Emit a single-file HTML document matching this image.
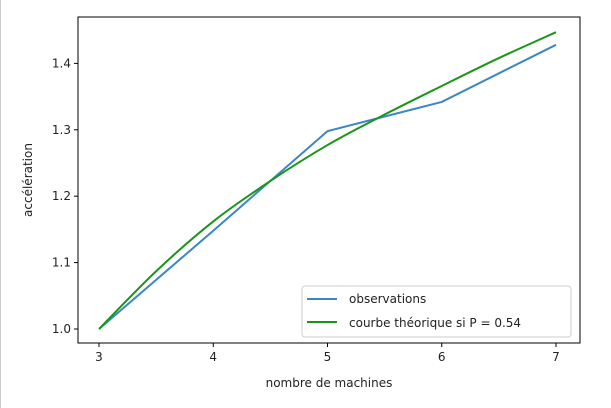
<!DOCTYPE html>
<html><head><meta charset="utf-8">
<style>
body{margin:0;background:#fff;}
svg{display:block;font-family:"DejaVu Sans","Liberation Sans",sans-serif;}
</style></head>
<body>
<svg id="chart" width="611" height="408">
<rect x="0" y="0" width="611" height="408" fill="#fff"/>
<rect x="0" y="0" width="1" height="408" fill="#ccc"/>
<g id="plot"></g>
</svg>
<script>
const categories=[3,4,5,6,7];
const observations=[1.0,1.148,1.298,1.342,1.428];
const theoX=[3,3.5,4,4.5,5,5.5,6,6.5,7];
const theoY=[1.0,1.087,1.162,1.223,1.277,1.323,1.366,1.408,1.447];
const xTicks=[3,4,5,6,7];
const yTicks=[1.0,1.1,1.2,1.3,1.4];
const yTickLabels=["1.0","1.1","1.2","1.3","1.4"];

const L=78,R=580,T=17,B=343;
function xs(v){return 99+(v-3)*(556-99)/4;}
function ys(v){return 329-(v-1.0)*664;}
const NS="http://www.w3.org/2000/svg";
const g=document.getElementById('plot');
function mk(tag,attrs,parent){const e=document.createElementNS(NS,tag);for(const k in attrs)e.setAttribute(k,attrs[k]);(parent||g).appendChild(e);return e;}

const frame=mk('rect',{x:L,y:T,width:R-L,height:B-T,fill:'none',stroke:'#000','stroke-width':1});



xTicks.forEach(v=>{
  const x=xs(v);
  const t=mk('line',{x1:x,x2:x,y1:B,y2:B+4,stroke:'#000'});
  
  
  const lb=mk('text',{x:x,y:B+18,'text-anchor':'middle','font-size':12,fill:'#222'});
  lb.textContent=v;
  
  
});
yTicks.forEach((v,i)=>{
  const y=ys(v);
  const t=mk('line',{x1:L-4,x2:L,y1:y,y2:y,stroke:'#000'});
  
  
  const lb=mk('text',{x:L-7,y:y+4,'text-anchor':'end','font-size':12,fill:'#222'});
  lb.textContent=yTickLabels[i];
  
  
});

const xt=mk('text',{x:(L+R)/2,y:387,'text-anchor':'middle','font-size':12,fill:'#222'});
xt.textContent='nombre de machines';


const yt=mk('text',{x:32,y:(T+B)/2,'text-anchor':'middle','font-size':12,fill:'#222',transform:'rotate(-90 32 '+((T+B)/2)+')'});
yt.textContent='accélération';



const obs=mk('polyline',{points:categories.map((c,i)=>xs(c)+','+ys(observations[i])).join(' '),fill:'none',stroke:'#3a86c8','stroke-width':2});



// smooth curve through theoretical points (Catmull-Rom)
const P=theoX.map((c,i)=>[xs(c),ys(theoY[i])]);
let d='M'+P[0][0]+','+P[0][1];
for(let i=0;i<P.length-1;i++){
  const p0=P[Math.max(0,i-1)],p1=P[i],p2=P[i+1],p3=P[Math.min(P.length-1,i+2)];
  const c1=[p1[0]+(p2[0]-p0[0])/6,p1[1]+(p2[1]-p0[1])/6];
  const c2=[p2[0]-(p3[0]-p1[0])/6,p2[1]-(p3[1]-p1[1])/6];
  d+=' C'+c1.join(',')+' '+c2.join(',')+' '+p2.join(',');
}
const th=mk('path',{d:d,fill:'none',stroke:'#1a951a','stroke-width':2});



const lg=mk('g',{});


mk('rect',{x:302,y:286,width:269,height:51,rx:3,fill:'#fff',stroke:'#ccc'},lg);
mk('line',{x1:307,x2:337,y1:299,y2:299,stroke:'#3a86c8','stroke-width':2},lg);
const l1=mk('text',{x:349,y:303,'font-size':12,fill:'#222'},lg);
l1.textContent='observations';


mk('line',{x1:307,x2:337,y1:322,y2:322,stroke:'#1a951a','stroke-width':2},lg);
const l2=mk('text',{x:349,y:327,'font-size':12,fill:'#222'},lg);
l2.textContent='courbe théorique si P = 0.54';


</script>
</body></html>
